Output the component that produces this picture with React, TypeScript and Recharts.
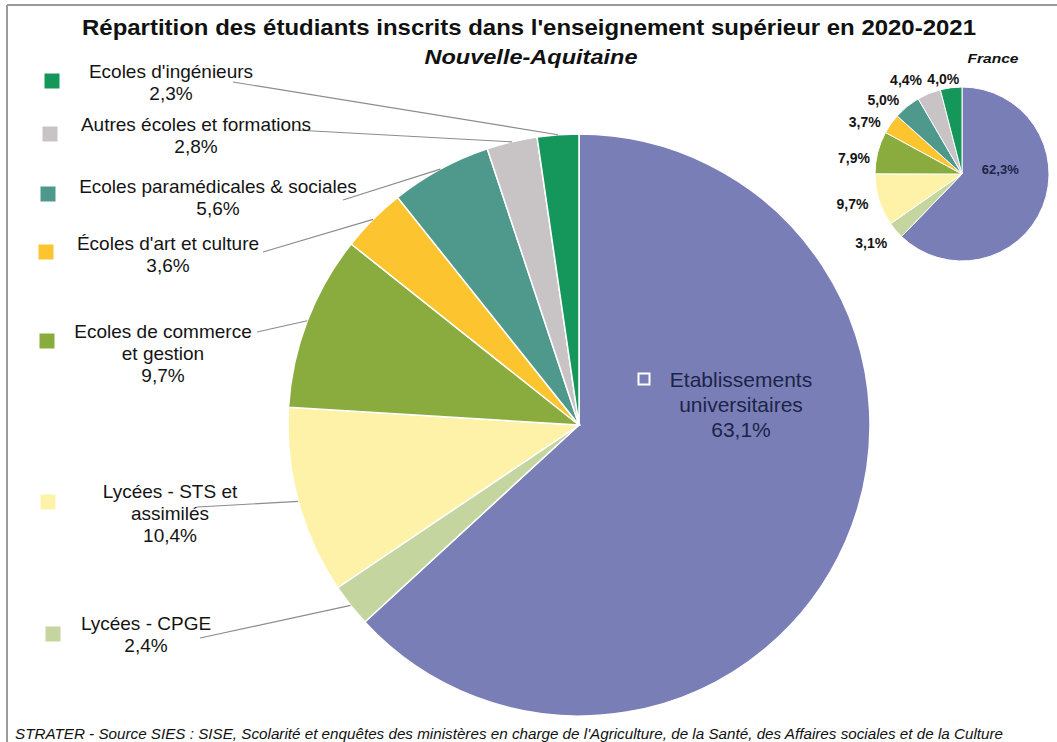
import React from 'react'
import { PieChart, Pie, Cell } from 'recharts'

// categories in drawing order, clockwise from 12 o'clock
const CATEGORIES = [
  'Etablissements universitaires',
  'Lycées - CPGE',
  'Lycées - STS et assimilés',
  'Ecoles de commerce et gestion',
  "Écoles d'art et culture",
  'Ecoles paramédicales & sociales',
  'Autres écoles et formations',
  "Ecoles d'ingénieurs",
]
const LABEL_LINES = [
  ['Etablissements', 'universitaires'],
  ['Lycées - CPGE'],
  ['Lycées - STS et', 'assimilés'],
  ['Ecoles de commerce', 'et gestion'],
  ["Écoles d'art et culture"],
  ['Ecoles paramédicales & sociales'],
  ['Autres écoles et formations'],
  ["Ecoles d'ingénieurs"],
]
const NOUVELLE_AQUITAINE = [63.1, 2.4, 10.4, 9.7, 3.6, 5.6, 2.8, 2.3]
const FRANCE = [62.3, 3.1, 9.7, 7.9, 3.7, 5.0, 4.4, 4.0]

const COLORS = ['#7a7eb7', '#c4d59f', '#fdf2a8', '#8aab3d', '#fcc42f', '#4f998c', '#c8c4c6', '#15975b']

// label layout for the main pie: key square centre, text centre x, first baseline, leader start
const MAIN_LAYOUT = [
  { sq: [644, 379], tx: 741, ty: 387, from: null },
  { sq: [53, 634], tx: 146, ty: 630, from: [200, 638] },
  { sq: [48, 502], tx: 170, ty: 498, from: [197, 507] },
  { sq: [47, 341], tx: 163, ty: 338, from: [257, 332] },
  { sq: [46, 252], tx: 168, ty: 250, from: [263, 252] },
  { sq: [48, 194], tx: 218, ty: 193, from: [343, 200] },
  { sq: [50, 134], tx: 196, ty: 131, from: [295, 130] },
  { sq: [52, 81], tx: 171, ty: 78, from: [233, 82] },
]
const FRANCE_NUDGE = [[2, -19], [-7, -2], [-4, -3], [-1, 11], [-7, 12], [-10, 10], [-16, 3], [-6, 5]]

const RADIAN = Math.PI / 180
const FONT = '"Liberation Sans", Arial, sans-serif'
const fmt = (v: number) => v.toFixed(1).replace('.', ',') + '%'

const mainData = CATEGORIES.map((name, i) => ({ name, value: NOUVELLE_AQUITAINE[i] }))
const franceData = CATEGORIES.map((name, i) => ({ name, value: FRANCE[i] }))

const renderMainLabel = (props: any) => {
  const { cx, cy, midAngle, outerRadius, index, value } = props
  const lay = MAIN_LAYOUT[index]
  const inside = index === 0
  const lines = [...LABEL_LINES[index], fmt(value)]
  const lineH = inside ? 25 : 22
  const ex = cx + outerRadius * Math.cos(-midAngle * RADIAN)
  const ey = cy + outerRadius * Math.sin(-midAngle * RADIAN)
  const s = inside ? 11 : 15
  return (
    <g key={`ml-${index}`}>
      {lay.from && (
        <line x1={lay.from[0]} y1={lay.from[1]} x2={ex} y2={ey} stroke="#8c8c8c" strokeWidth={1.2} />
      )}
      <rect
        x={lay.sq[0] - s / 2}
        y={lay.sq[1] - s / 2}
        width={s}
        height={s}
        fill={COLORS[index]}
        stroke={inside ? '#ffffff' : 'none'}
        strokeWidth={inside ? 2 : 0}
      />
      <text
        x={lay.tx}
        y={lay.ty}
        textAnchor="middle"
        fontFamily={FONT}
        fontSize={inside ? 21 : 19}
        fill={inside ? '#1c2448' : '#141414'}
      >
        {lines.map((l, i) => (
          <tspan key={i} x={lay.tx} dy={i === 0 ? 0 : lineH}>{l}</tspan>
        ))}
      </text>
    </g>
  )
}

const renderFranceLabel = (props: any) => {
  const { cx, cy, midAngle, outerRadius, index, value } = props
  const dx = Math.cos(-midAngle * RADIAN)
  const dy = Math.sin(-midAngle * RADIAN)
  const r = index === 0 ? outerRadius * 0.45 : outerRadius + 4 + Math.abs(dx) * 18 + Math.abs(dy) * 8
  const x = cx + r * dx + FRANCE_NUDGE[index][0]
  const y = cy + r * dy + FRANCE_NUDGE[index][1]
  return (
    <text
      key={`fl-${index}`}
      x={x}
      y={y}
      textAnchor="middle"
      dominantBaseline="central"
      fontFamily={FONT}
      fontSize={index === 0 ? 13 : 14}
      fontWeight="bold"
      fill={index === 0 ? '#1c2448' : '#141414'}
    >
      {fmt(value)}
    </text>
  )
}

export default function App() {
  return (
    <div style={{ position: 'absolute', left: 0, top: 0, width: 1057, height: 742, background: '#fff' }}>
      <svg width={1057} height={742} style={{ position: 'absolute', left: 0, top: 0 }}>
        <line x1={7} y1={5} x2={1057} y2={5} stroke="#9a9a9a" strokeWidth={2} />
        <line x1={7} y1={5} x2={7} y2={742} stroke="#9a9a9a" strokeWidth={2} />
        <text x={529} y={35} textAnchor="middle" fontFamily={FONT} fontSize={22} fontWeight="bold" fill="#111"
          textLength={894} lengthAdjust="spacingAndGlyphs">
          Répartition des étudiants inscrits dans l'enseignement supérieur en 2020-2021
        </text>
        <text x={531} y={64} textAnchor="middle" fontFamily={FONT} fontSize={21} fontWeight="bold" fontStyle="italic"
          fill="#111" textLength={213} lengthAdjust="spacingAndGlyphs">
          Nouvelle-Aquitaine
        </text>
        <text x={993} y={63} textAnchor="middle" fontFamily={FONT} fontSize={13} fontWeight="bold" fontStyle="italic"
          fill="#111" textLength={51} lengthAdjust="spacingAndGlyphs">
          France
        </text>
        <text x={15} y={739} fontFamily={FONT} fontSize={14} fontStyle="italic" fill="#111"
          textLength={988} lengthAdjust="spacingAndGlyphs">
          STRATER - Source SIES : SISE, Scolarité et enquêtes des ministères en charge de l'Agriculture, de la Santé, des Affaires sociales et de la Culture
        </text>
      </svg>
      <div style={{ position: 'absolute', left: 0, top: 0 }}>
        <PieChart width={1057} height={742} margin={{ top: 0, right: 0, bottom: 0, left: 0 }}>
          <Pie
            data={mainData}
            dataKey="value"
            nameKey="name"
            cx={579}
            cy={425}
            outerRadius={291}
            startAngle={90}
            endAngle={-270}
            stroke="#ffffff"
            strokeWidth={1.5}
            label={renderMainLabel}
            labelLine={false}
            isAnimationActive={false}
          >
            {mainData.map((_, i) => <Cell key={i} fill={COLORS[i]} />)}
          </Pie>
          <Pie
            data={franceData}
            dataKey="value"
            nameKey="name"
            cx={962}
            cy={174}
            outerRadius={87}
            startAngle={90}
            endAngle={-270}
            stroke="#ffffff"
            strokeWidth={1}
            label={renderFranceLabel}
            labelLine={false}
            isAnimationActive={false}
          >
            {franceData.map((_, i) => <Cell key={i} fill={COLORS[i]} />)}
          </Pie>
        </PieChart>
      </div>
    </div>
  )
}
